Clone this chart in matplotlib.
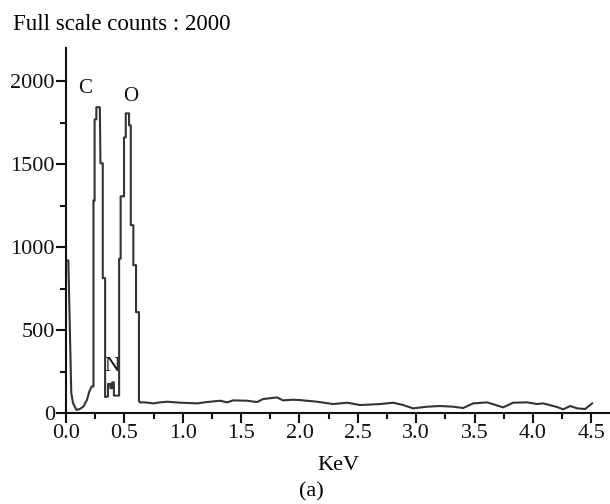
import matplotlib
matplotlib.use("Agg")
import matplotlib.pyplot as plt
import numpy as np
from matplotlib.ticker import MultipleLocator

# EDS spectrum (energy in keV, counts)
energy_kev = [
    0.000, 0.020, 0.030, 0.045, 0.060, 0.090, 0.120, 0.150, 0.180, 0.200, 0.220,
    0.235, 0.235, 0.245, 0.245, 0.260, 0.260, 0.290, 0.295, 0.315, 0.315, 0.335, 0.335,
    0.360, 0.360, 0.380, 0.380, 0.395, 0.395, 0.410, 0.410, 0.455,
    0.455, 0.468, 0.468, 0.497, 0.497, 0.512, 0.512, 0.540, 0.540, 0.555, 0.555,
    0.577, 0.577, 0.600, 0.600, 0.625, 0.625,
    0.634, 0.677, 0.746, 0.805, 0.865, 0.977, 1.063, 1.123, 1.208, 1.320, 1.380,
    1.431, 1.551, 1.637, 1.688, 1.808, 1.859, 1.945, 2.005, 2.151, 2.288, 2.408,
    2.519, 2.691, 2.802, 2.888, 2.973, 3.093, 3.205, 3.316, 3.402, 3.488, 3.608,
    3.745, 3.830, 3.950, 4.036, 4.087, 4.207, 4.259, 4.319, 4.379, 4.447, 4.507,
]
counts = [
    920, 920, 600, 122, 60, 18, 25, 40, 80, 130, 160,
    160, 1280, 1280, 1770, 1770, 1843, 1843, 1505, 1505, 813, 813, 96,
    100, 175, 175, 150, 150, 185, 185, 105, 105,
    930, 930, 1306, 1306, 1661, 1661, 1806, 1806, 1734, 1734, 1132,
    1132, 891, 891, 608, 608, 72,
    64, 64, 58, 64, 68, 62, 60, 58, 66, 74, 64,
    76, 74, 66, 84, 94, 76, 80, 78, 68, 54, 62,
    48, 54, 62, 48, 28, 38, 42, 38, 30, 58, 64,
    34, 62, 64, 54, 58, 36, 22, 42, 28, 24, 58,
]

peak_labels = ["C", "O", "N"]
peak_pos = [(0.165, 1955), (0.55, 1910), (0.39, 283)]

plt.rcParams['font.family'] = ['Liberation Serif', 'DejaVu Serif']

fig = plt.figure(figsize=(6.1, 5.04), dpi=100)
ax = fig.add_axes([66 / 610, 91 / 504, 544 / 610, 365 / 504])

ax.plot(energy_kev, counts, color='#333333', linewidth=1.5)

for lab, (x, y) in zip(peak_labels, peak_pos):
    ax.text(x, y, lab, fontsize=15, ha='center', va='center', color='#111111')

ax.set_xlim(0, 4.66)
ax.set_ylim(0, 2200)
ax.xaxis.set_major_locator(MultipleLocator(0.5))
ax.xaxis.set_minor_locator(MultipleLocator(0.25))
ax.yaxis.set_major_locator(MultipleLocator(500))
ax.yaxis.set_minor_locator(MultipleLocator(250))
ax.set_xticks(np.arange(0, 4.51, 0.5))
ax.set_xticklabels([f"{v:.1f}" for v in np.arange(0, 4.51, 0.5)])

for s in ['top', 'right']:
    ax.spines[s].set_visible(False)
for s in ['left', 'bottom']:
    ax.spines[s].set_linewidth(1.5)
    ax.spines[s].set_color('#111111')

ax.tick_params(axis='both', which='major', direction='out', length=7, width=1.5,
               labelsize=16, colors='#111111', pad=1)
ax.tick_params(axis='both', which='minor', direction='out', length=4, width=1.5,
               colors='#111111')

ax.set_xlabel("KeV", fontsize=16, labelpad=9)

fig.text(13 / 610, 1 - 24 / 504, "Full scale counts : 2000", fontsize=16.5,
         ha='left', va='center')
fig.text(311 / 610, 1 - 492 / 504, "(a)", fontsize=16, ha='center', va='center')

fig.savefig("out.png", dpi=100)
